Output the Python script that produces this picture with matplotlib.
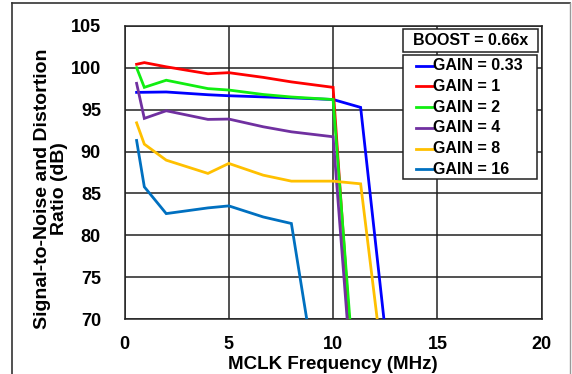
import matplotlib
matplotlib.use("Agg")
import matplotlib.pyplot as plt
from matplotlib.lines import Line2D
from matplotlib.patches import Rectangle

plt.rcParams['font.family'] = ['Liberation Sans', 'DejaVu Sans']
plt.rcParams['font.weight'] = 'bold'

labels = ["GAIN = 0.33", "GAIN = 1", "GAIN = 2", "GAIN = 4", "GAIN = 8", "GAIN = 16"]
colors = ["#0000FF", "#FF0000", "#11EE11", "#7030A0", "#FFC000", "#0070C0"]

x_blue = [0.58, 2.0, 4.0, 5.0, 8.0, 10.0, 11.32, 12.46]
y_blue = [97.05, 97.1, 96.77, 96.65, 96.4, 96.2, 95.26, 69.5]

x_red = [0.58, 0.95, 2.0, 4.0, 5.0, 6.65, 8.0, 10.0, 10.78]
y_red = [100.4, 100.6, 100.1, 99.27, 99.4, 98.84, 98.3, 97.65, 69.5]

x_green = [0.58, 0.95, 2.0, 4.0, 5.0, 6.65, 8.0, 10.0, 10.82]
y_green = [99.99, 97.65, 98.5, 97.5, 97.33, 96.8, 96.5, 96.2, 69.5]

x_purple = [0.58, 0.95, 2.0, 4.0, 5.0, 6.65, 8.0, 10.0, 10.69]
y_purple = [98.13, 93.95, 94.86, 93.83, 93.87, 92.95, 92.35, 91.76, 69.5]

x_yellow = [0.58, 0.95, 2.0, 4.0, 5.0, 6.65, 8.0, 10.0, 11.32, 12.14]
y_yellow = [93.42, 90.88, 88.97, 87.39, 88.58, 87.18, 86.47, 86.47, 86.15, 69.5]

x_teal = [0.58, 0.95, 2.0, 4.0, 5.0, 6.65, 8.0, 8.77]
y_teal = [91.32, 85.79, 82.6, 83.28, 83.52, 82.2, 81.42, 69.5]

series = [(x_blue, y_blue), (x_red, y_red), (x_green, y_green),
          (x_purple, y_purple), (x_yellow, y_yellow), (x_teal, y_teal)]

xticks = [0, 5, 10, 15, 20]
yticks = [70, 75, 80, 85, 90, 95, 100, 105]

W, H = 572, 374
fig = plt.figure(figsize=(W / 100, H / 100), dpi=100)
ax = fig.add_axes([124.5 / W, 1 - 319.3 / H, (541.7 - 124.5) / W, (319.3 - 25.7) / H])

for (xs, ys), c, lab in zip(series, colors, labels):
    ax.plot(xs, ys, color=c, lw=2.0, label=lab, solid_joinstyle='miter', zorder=3)

ax.set_xlim(0, 20)
ax.set_ylim(70, 105)
ax.set_xticks(xticks)
ax.set_yticks(yticks)
ax.tick_params(axis='x', length=0, labelsize=13, pad=12)
ax.tick_params(axis='y', length=0, labelsize=13, pad=17)
for t in ax.get_xticklabels() + ax.get_yticklabels():
    t.set_fontweight('bold')
ax.grid(True, color='#222222', lw=1.1)
ax.set_axisbelow(True)
for s in ax.spines.values():
    s.set_color('#222222')
    s.set_linewidth(1.1)

ax.set_xlabel("MCLK Frequency (MHz)", fontsize=13.5, fontweight='bold', labelpad=2)
ax.set_ylabel("Signal-to-Noise and Distortion\nRatio (dB)", fontsize=14,
              fontweight='bold', linespacing=1.0)
ax.yaxis.set_label_coords(-(124.5 - 68) / (541.7 - 124.5), (319.3 - 189) / (319.3 - 25.7))

def fx(px):
    return px / W

def fy(py):
    return 1 - py / H

# BOOST box
fig.patches.append(Rectangle((fx(402.5), fy(52)), (538 - 402.5) / W, (52 - 29) / H,
                             transform=fig.transFigure, facecolor='white',
                             edgecolor='#222222', lw=1.1, zorder=5))
fig.text(fx((402.5 + 538) / 2), fy(40.5), "BOOST = 0.66x", ha='center',
         va='center', fontsize=11.5, fontweight='bold', zorder=6)

# legend box (manual)
fig.patches.append(Rectangle((fx(402.7), fy(179.3)), (537.3 - 402.7) / W, (179.3 - 55) / H,
                             transform=fig.transFigure, facecolor='white',
                             edgecolor='#222222', lw=1.1, zorder=5))
row0, step = 65.5, 20.8
for i, (c, lab) in enumerate(zip(colors, labels)):
    yy = row0 + i * step
    fig.add_artist(Line2D([fx(416), fx(433)], [fy(yy), fy(yy)], transform=fig.transFigure,
                          color=c, lw=2.0, zorder=6))
    fig.text(fx(433), fy(yy), lab, ha='left', va='center', fontsize=11.5,
             fontweight='bold', zorder=6)

# outer frame
fig.add_artist(Line2D([fx(12), fx(12)], [0, fy(3)], transform=fig.transFigure,
                      color='#333333', lw=1.2))
fig.add_artist(Line2D([fx(12), fx(569.5)], [fy(3), fy(3)],
                      transform=fig.transFigure, color='#333333', lw=1.2))
fig.add_artist(Line2D([fx(569.5), fx(569.5)], [0, fy(3)], transform=fig.transFigure,
                      color='#999999', lw=1.0))

fig.savefig("out.png", dpi=100)
